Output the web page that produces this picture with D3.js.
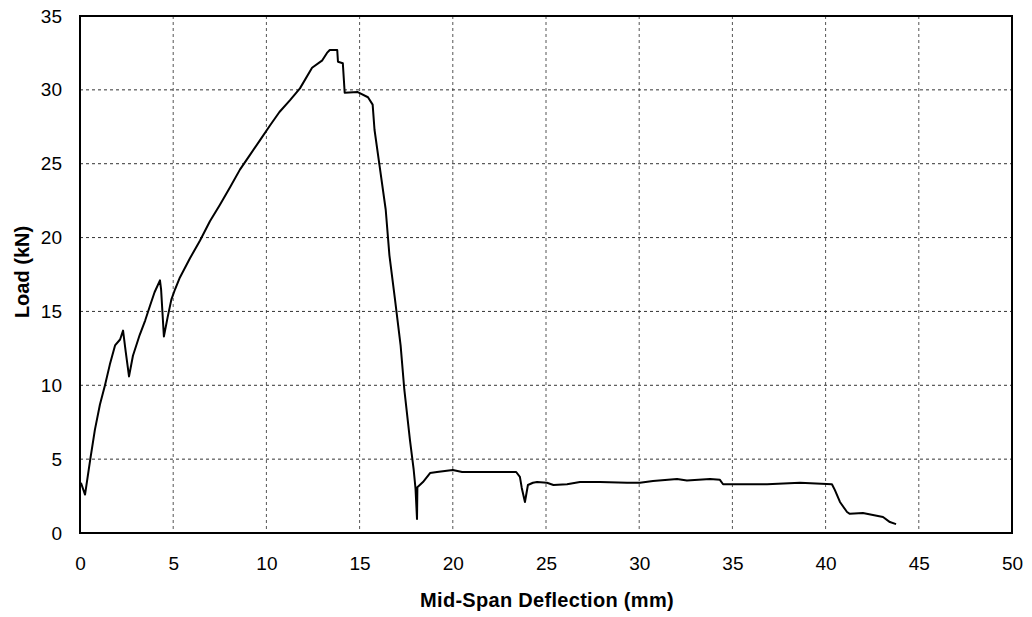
<!DOCTYPE html>
<html>
<head>
<meta charset="utf-8">
<script src="https://cdn.jsdelivr.net/npm/d3@7"></script>
<style>
  body { margin: 0; background: #fff; }
  svg { display: block; font-family: Arial, "Liberation Sans", sans-serif; }
</style>
</head>
<body>
<div id="chart"></div>
<script>
// mid-span deflection (mm) and load (kN)
var deflection = [0.05, 0.27, 0.54, 0.8, 1.07, 1.34, 1.6, 1.88, 2.15, 2.31, 2.45, 2.63, 2.84, 3.2, 3.5, 3.76, 4.0, 4.29, 4.35, 4.5,
    4.7, 4.9, 5.1, 5.36, 5.9, 6.44, 6.97, 7.5, 8.05, 8.58, 9.12, 9.66, 10.2, 10.7, 11.27, 11.8, 12.45, 13.0, 13.25, 13.4,
    13.8, 13.84, 14.1, 14.2, 14.9, 15.45, 15.7, 15.8, 16.1, 16.4, 16.6, 16.9, 17.2, 17.4, 17.7, 17.9, 18.0, 18.08, 18.1, 18.4,
    18.78, 19.15, 20.0, 20.5, 23.4, 23.6, 23.7, 23.87, 24.03, 24.3, 24.52, 25.05, 25.4, 26.13, 26.82, 27.9, 29.35, 30.04, 30.74, 32.03,
    32.56, 33.8, 34.33, 34.5, 35.03, 36.86, 38.63, 40.34, 40.5, 40.77, 41.15, 41.3, 42.0, 42.54, 43.08, 43.45, 43.78];
var load = [3.4, 2.6, 4.9, 7.0, 8.7, 10.0, 11.4, 12.7, 13.1, 13.7, 12.3, 10.6, 12.0, 13.4, 14.4, 15.4, 16.3, 17.1, 16.5, 13.3,
    14.6, 15.8, 16.5, 17.3, 18.6, 19.8, 21.1, 22.2, 23.4, 24.6, 25.6, 26.6, 27.6, 28.5, 29.3, 30.1, 31.5, 32.0, 32.5, 32.7,
    32.7, 31.9, 31.8, 29.8, 29.85, 29.5, 29.0, 27.3, 24.6, 21.9, 18.8, 15.8, 12.7, 9.7, 6.3, 4.3, 3.0, 0.95, 3.1, 3.45,
    4.06, 4.13, 4.27, 4.13, 4.13, 3.8, 3.05, 2.1, 3.25, 3.4, 3.45, 3.4, 3.25, 3.3, 3.45, 3.45, 3.4, 3.4, 3.52, 3.66,
    3.55, 3.66, 3.6, 3.3, 3.3, 3.3, 3.4, 3.3, 2.9, 2.1, 1.42, 1.3, 1.35, 1.22, 1.08, 0.74, 0.6];

var xTicks = [0, 5, 10, 15, 20, 25, 30, 35, 40, 45, 50];
var yTicks = [0, 5, 10, 15, 20, 25, 30, 35];

var width = 1032, height = 617;
var margin = {top: 16, right: 20, bottom: 84, left: 80};
var w = width - margin.left - margin.right,
    h = height - margin.top - margin.bottom;

var svg = d3.select("#chart").append("svg")
    .attr("width", width)
    .attr("height", height);

var g = svg.append("g")
    .attr("transform", "translate(" + margin.left + "," + margin.top + ")");

var x = d3.scaleLinear().domain([0, 50]).range([0, w]);
var y = d3.scaleLinear().domain([0, 35]).range([h, 0]);

// grid
g.append("g").selectAll("line")
    .data(xTicks.slice(1, -1))
    .enter().append("line")
    .attr("x1", function(d) { return x(d); })
    .attr("x2", function(d) { return x(d); })
    .attr("y1", 0)
    .attr("y2", h)
    .attr("stroke", "#555")
    .attr("stroke-dasharray", "3,3");

g.append("g").selectAll("line")
    .data(yTicks.slice(1, -1))
    .enter().append("line")
    .attr("x1", 0)
    .attr("x2", w)
    .attr("y1", function(d) { return y(d); })
    .attr("y2", function(d) { return y(d); })
    .attr("stroke", "#333")
    .attr("stroke-dasharray", "3,3");

// axes (labels only, frame drawn below)
var xAxis = g.append("g")
    .attr("transform", "translate(0," + h + ")")
    .call(d3.axisBottom(x).tickValues(xTicks).tickSize(0).tickPadding(24));
var yAxis = g.append("g")
    .call(d3.axisLeft(y).tickValues(yTicks).tickSize(0).tickPadding(18));

[xAxis, yAxis].forEach(function(a) {
    a.select(".domain").remove();
    a.selectAll("text")
        .style("font-size", "19px")
        .style("font-family", "Arial, 'Liberation Sans', sans-serif")
        .attr("fill", "#000");
});

// curve
var pts = deflection.map(function(d, i) { return [d, load[i]]; });
var line = d3.line()
    .x(function(d) { return x(d[0]); })
    .y(function(d) { return y(d[1]); });

g.append("path")
    .datum(pts)
    .attr("d", line)
    .attr("fill", "none")
    .attr("stroke", "#000")
    .attr("stroke-width", 2)
    .attr("stroke-linejoin", "round");

// frame
g.append("rect")
    .attr("x", 0)
    .attr("y", 0)
    .attr("width", w)
    .attr("height", h)
    .attr("fill", "none")
    .attr("stroke", "#000")
    .attr("stroke-width", 2);

// titles
svg.append("text")
    .attr("x", 547)
    .attr("y", 607)
    .attr("text-anchor", "middle")
    .style("font-size", "20px")
    .style("letter-spacing", "0.3px")
    .style("font-weight", "bold")
    .text("Mid-Span Deflection (mm)");

svg.append("text")
    .attr("transform", "translate(29,272) rotate(-90)")
    .attr("text-anchor", "middle")
    .style("font-size", "20px")
    .style("font-weight", "bold")
    .text("Load (kN)");
</script>
</body>
</html>
